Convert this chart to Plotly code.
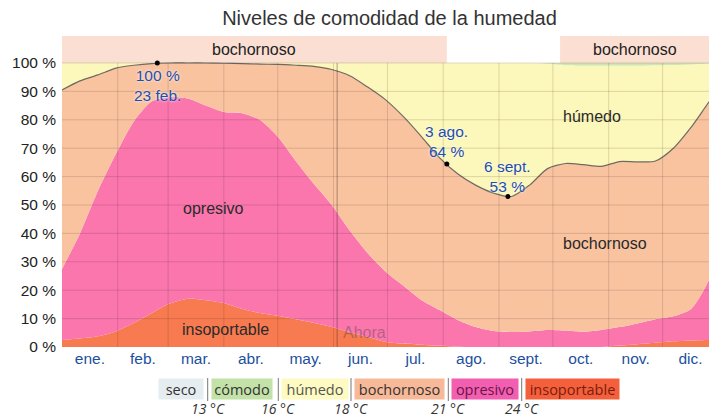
import plotly.graph_objects as go

# day of year (0 = 1 Jan) at which the band edges were read
days = [0, 10, 20, 30, 40, 50, 60, 70, 80, 90, 100, 110, 120, 130, 140, 150, 160, 170,
        180, 190, 200, 210, 220, 230, 240, 250, 260, 270, 280, 290, 300, 310, 320, 330,
        340, 350, 360, 365]

# upper edge of each comfort band (% of time, cumulative from the bottom)
insoportable_top = [2.5, 3, 3.8, 5.5, 8.5, 12, 15.3, 17, 16.5, 15.5, 13.5, 12, 11, 9.8, 8.5, 7,
                    5.2, 3.5, 1.8, 1.2, 0.8, 0.4, 0.1, 0, 0, 0, 0, 0, 0, 0, 0, 0.5, 1, 1.5, 2,
                    2.3, 2.5, 2.5]
opresivo_top = [27.5, 40, 55, 68, 79.5, 86.5, 88, 87.5, 85, 82.7, 82.3, 80, 74, 65.5, 57.5, 50,
                41, 33, 26.5, 21.5, 16.5, 13, 9.5, 7, 5.6, 5.3, 5.5, 6, 5.8, 5.4, 6, 7, 8.3, 9.8,
                10.8, 13.5, 24, 35]
bochornoso_top = [90.5, 93.7, 95.8, 98.2, 99.2, 99.8, 100, 100, 100, 99.9, 99.8, 99.6, 99.5,
                  99.2, 98.8, 97.7, 95.5, 91.5, 87, 81, 74, 66.6, 61, 57, 54.2, 53, 57, 62.8,
                  64.6, 64.2, 63.6, 65.3, 65.2, 65.5, 70, 77.5, 86.4, 90]
comodo_share = [0, 0, 0, 0, 0, 0, 0, 0, 0, 0, 0, 0, 0, 0, 0, 0, 0, 0, 0, 0, 0, 0, 0, 0, 0, 0, 0,
                0.3, 0.8, 1, 1, 1, 1, 0.8, 0.7, 0.5, 0.3, 0.2]

month_starts = [0, 31, 59, 90, 120, 151, 181, 212, 243, 273, 304, 334, 365]
month_labels = ["ene.", "feb.", "mar.", "abr.", "may.", "jun.", "jul.", "ago.", "sept.",
                "oct.", "nov.", "dic."]

# highlighted points: (day, value, label)
callouts = [(53, 100, "100 %<br>23 feb."), (214, 64.4, "3 ago.<br>64 %"), (248, 53, "6 sept.<br>53 %")]
now_day = 153

# top band: most common level
band_spans = [(0, 214, "bochornoso"), (277, 365, "bochornoso")]

legend_names = ["seco", "cómodo", "húmedo", "bochornoso", "opresivo", "insoportable"]
legend_fill = ["#e6edf1", "#c3e2a8", "#fdfbc2", "#f8b999", "#f25fb0", "#f4603c"]
legend_ink = ["#333333", "#333333", "#555555", "#333333", "#6a1448", "#7a1c0c"]
thresholds = ["13 °C", "16 °C", "18 °C", "21 °C", "24 °C"]

C_INSOP = "#f87a50"
C_OPRES = "#fa76ad"
C_BOCH = "#f9c3a0"
C_HUM = "#fcf7ba"
C_COMO = "#cfe6b0"
FONT = "Liberation Sans, Arial, sans-serif"

humedo_top = [100 - c for c in comodo_share]
full = [100 for _ in days]

fig = go.Figure()
layers = [
    (insoportable_top, C_INSOP, "tozeroy"),
    (opresivo_top, C_OPRES, "tonexty"),
    (bochornoso_top, C_BOCH, "tonexty"),
    (humedo_top, C_HUM, "tonexty"),
    (full, C_COMO, "tonexty"),
]
for ys, col, fill in layers:
    fig.add_trace(go.Scatter(x=days, y=ys, mode="lines", fill=fill, fillcolor=col,
                             line=dict(width=0, shape="spline", smoothing=0.7),
                             hoverinfo="skip"))

fig.add_trace(go.Scatter(x=days, y=bochornoso_top, mode="lines",
                         line=dict(color="#6f6a62", width=1.2, shape="spline", smoothing=0.7),
                         hoverinfo="skip"))

fig.add_trace(go.Scatter(x=[c[0] for c in callouts], y=[c[1] for c in callouts], mode="markers",
                         marker=dict(color="black", size=5), hoverinfo="skip"))

# grid drawn over the areas
grid = "rgba(60,40,30,0.16)"
for d in month_starts[1:-1]:
    fig.add_shape(type="line", x0=d, x1=d, y0=0, y1=100, line=dict(color=grid, width=1),
                  layer="above")
for v in range(10, 101, 10):
    fig.add_shape(type="line", x0=0, x1=365, y0=v, y1=v, line=dict(color=grid, width=1),
                  layer="above")
fig.add_shape(type="line", x0=now_day, x1=now_day, y0=0, y1=100,
              line=dict(color="rgba(60,30,30,0.4)", width=1), layer="above")
fig.add_annotation(x=now_day + 2, y=5, text="Ahora", showarrow=False, xanchor="left",
                   font=dict(family=FONT, size=16, color="rgba(90,70,80,0.45)"))

for x0, x1, name in band_spans:
    fig.add_shape(type="rect", x0=x0, x1=x1, y0=100, y1=109.5, fillcolor="#fbdfd3",
                  line=dict(width=0), layer="below")
    fig.add_annotation(x=(x0 + min(x1, 359.8)) / 2, y=104.7, text=name, showarrow=False,
                       font=dict(family=FONT, size=16, color="#222"))

labels = [(84, 48.6, "opresivo"), (91, 6, "insoportable"), (302, 36.6, "bochornoso"),
          (295, 81.3, "húmedo")]
for x, y, t in labels:
    fig.add_annotation(x=x, y=y, text=t, showarrow=False,
                       font=dict(family=FONT, size=16, color="#2a2a2a"))

callout_pos = [(53, 92.1), (214, 72.4), (248, 60.2)]
for (cx, cy), c in zip(callout_pos, callouts):
    fig.add_annotation(x=cx, y=cy, text=c[2], showarrow=False,
                       font=dict(family=FONT, size=15.5, color="#1d4fb0",
                                 shadow="0px 0px 3px white"))


# legend strip below the chart (pixel layout -> paper coords)
def px(xp):
    return (xp - 62) / 647


def py(yp):
    return (347 - yp) / 311


boxes = [(159, 203), (212, 272), (282, 348), (355, 444), (452, 518), (526, 619)]
for (a, b), name, fc, ink in zip(boxes, legend_names, legend_fill, legend_ink):
    fig.add_annotation(x=px((a + b) / 2), y=py(389), xref="paper", yref="paper", text=name,
                       xanchor="center", yanchor="middle",
                       showarrow=False, bgcolor=fc, width=b - a, height=20, borderpad=0,
                       font=dict(family="Open Sans, sans-serif", size=14.5, color=ink))
seps = [207.7, 278.3, 351, 448.3, 521.7]
for s, t in zip(seps, thresholds):
    fig.add_shape(type="line", xref="paper", yref="paper", x0=px(s), x1=px(s), y0=py(378),
                  y1=py(401), line=dict(color="#777", width=1))
    fig.add_annotation(x=px(s), y=py(408), xref="paper", yref="paper", text=t, showarrow=False,
                       xanchor="center", yanchor="middle",
                       font=dict(family="Open Sans, sans-serif", size=14, color="#333",
                                 style="italic"))

centers = [(month_starts[i] + month_starts[i + 1]) / 2 for i in range(12)]
fig.update_xaxes(range=[0, 359.8], tickmode="array", tickvals=centers, ticktext=month_labels,
                 showgrid=False, zeroline=False, ticks="", showline=False, automargin=False,
                 tickfont=dict(family=FONT, size=15.5, color="#1d4fa0"))
fig.update_yaxes(range=[0, 109.5], tickmode="array", tickvals=list(range(0, 101, 10)),
                 ticktext=[f"{v} %" for v in range(0, 101, 10)], showgrid=False,
                 zeroline=False, ticks="", ticklabelstandoff=5, automargin=False,
                 tickfont=dict(family=FONT, size=15.5, color="#222"))
fig.update_layout(
    width=709, height=417,
    margin=dict(l=62, r=0, t=36, b=70),
    title=dict(text="Niveles de comodidad de la humedad", x=389.5 / 709, xref="container",
               xanchor="center", y=1 - 18 / 417, yanchor="middle",
               font=dict(family=FONT, size=20, color="#333")),
    plot_bgcolor="white", paper_bgcolor="white",
    showlegend=False,
)
fig.write_html("out.html", config={"displayModeBar": False},
               post_script="document.body.style.margin='0';")
